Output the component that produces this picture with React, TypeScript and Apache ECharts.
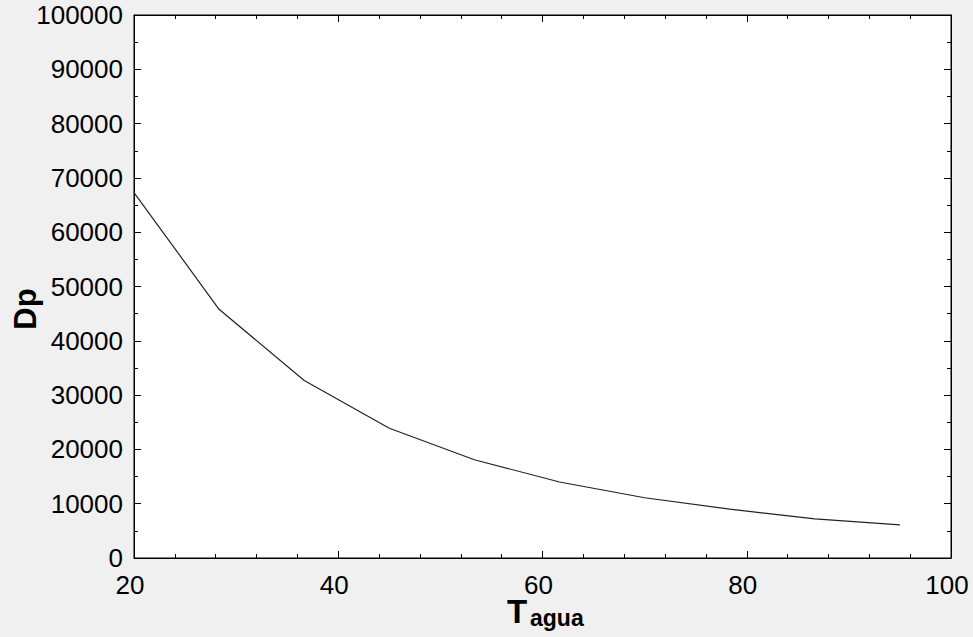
import React, { useEffect, useRef } from "react";
import * as echarts from "echarts";

const tagua = [20, 28.33, 36.67, 45, 53.33, 61.67, 70, 78.33, 86.67, 95];
const dp = [67300, 45800, 32700, 23900, 18100, 14000, 11100, 9000, 7200, 6100];
const xTicks = [20, 40, 60, 80, 100];
const yTicks = [0, 10000, 20000, 30000, 40000, 50000, 60000, 70000, 80000, 90000, 100000];

const FONT = 'Arial, "Liberation Sans", sans-serif';

export default function App() {
  const ref = useRef<HTMLDivElement>(null);
  useEffect(() => {
    if (!ref.current) return;
    const chart = echarts.init(ref.current, null, { renderer: "svg" });
    const tickStyle = { color: "#000", width: 1 };
    const baseX = {
      type: "value" as const,
      min: xTicks[0],
      max: xTicks[xTicks.length - 1],
      interval: 20,
      splitLine: { show: false },
      axisLine: { show: true, onZero: false, lineStyle: tickStyle },
      axisTick: { show: true, inside: true, length: 7, lineStyle: tickStyle },
      minorTick: { show: true, splitNumber: 5, length: 4, lineStyle: tickStyle },
    };
    const baseY = {
      type: "value" as const,
      min: yTicks[0],
      max: yTicks[yTicks.length - 1],
      interval: 10000,
      splitLine: { show: false },
      axisLine: { show: true, onZero: false, lineStyle: tickStyle },
      axisTick: { show: true, inside: true, length: 7, lineStyle: tickStyle },
      minorTick: { show: true, splitNumber: 2, length: 4, lineStyle: tickStyle },
    };
    chart.setOption({
      animation: false,
      backgroundColor: "#f0f0f0",
      grid: {
        left: 134,
        right: 22,
        top: 15,
        bottom: 79,
        show: true,
        backgroundColor: "#fff",
        borderColor: "#000",
        borderWidth: 1,
      },
      xAxis: [
        {
          ...baseX,
          position: "bottom",
          axisLabel: {
            show: true,
            color: "#000",
            fontFamily: FONT,
            fontSize: 26,
            margin: 14,
            padding: [0, 8, 0, 0],
            formatter: (v: number) => String(v),
          },
        },
        { ...baseX, position: "top", axisLabel: { show: false } },
      ],
      yAxis: [
        {
          ...baseY,
          position: "left",
          axisLabel: {
            show: true,
            color: "#000",
            fontFamily: FONT,
            fontSize: 26,
            margin: 11,
            formatter: (v: number) => String(v),
          },
        },
        { ...baseY, position: "right", axisLabel: { show: false } },
      ],
      graphic: [
        {
          type: "text",
          left: 507,
          top: 595,
          style: { text: "T", font: `bold 33px ${FONT}`, fill: "#000" },
        },
        {
          type: "text",
          left: 530,
          top: 606,
          style: { text: "agua", font: `bold 23px ${FONT}`, fill: "#000" },
        },
        {
          type: "text",
          x: 25,
          y: 309,
          rotation: Math.PI / 2,
          style: {
            text: "Dp",
            font: `bold 31px ${FONT}`,
            fill: "#000",
            align: "center",
            verticalAlign: "middle",
          },
        },
      ],
      series: [
        {
          type: "line",
          data: tagua.map((x, i) => [x, dp[i]]),
          showSymbol: false,
          symbol: "none",
          lineStyle: { color: "#222", width: 1.2 },
        },
      ],
    });
    return () => chart.dispose();
  }, []);
  return (
    <div
      ref={ref}
      style={{ position: "fixed", left: 0, top: 0, width: 973, height: 637 }}
    />
  );
}
